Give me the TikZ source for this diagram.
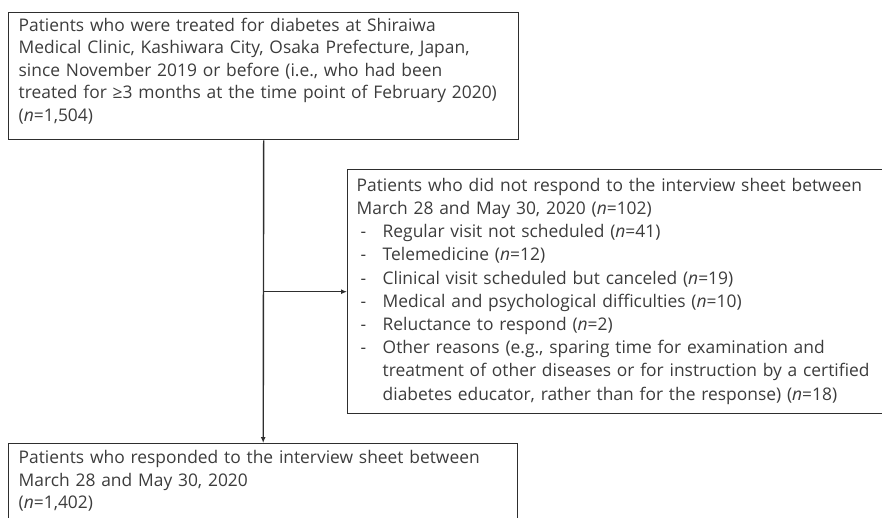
\documentclass[tikz,border=0pt]{standalone}
\usepackage{fontspec}
\setmainfont{Open Sans}
\usetikzlibrary{arrows.meta}

\definecolor{boxline}{HTML}{2E2E2E}
\definecolor{boxtext}{HTML}{3C3C3C}

\begin{document}
\begin{tikzpicture}[x=1pt,y=-1pt,
    flowbox/.style={draw=boxline, line width=1.4pt, anchor=north west,
      align=left, inner xsep=10pt, inner ysep=5pt, text=boxtext,
      font=\fontsize{17.4}{22.6}\selectfont},
    flowarrow/.style={draw=boxline, line width=1.4pt,
      -{Latex[length=6pt,width=5pt]}}]
  % --- item indent for the list of reasons ---
  \def\dsh{\hspace*{4pt}\makebox[22pt][l]{-}}
  \def\cont{\hspace*{26pt}}

  \useasboundingbox (0,0) rectangle (882,517);

  % --- enrolled patients ---
  \node[flowbox, text width=490pt] (enrolled) at (8,12)
    {\makebox[456pt][s]{Patients who were treated for diabetes at Shiraiwa}\\
     \mbox{Medical Clinic, Kashiwara City, Osaka Prefecture, Japan,}\\
     \makebox[463pt][s]{since November 2019 or before (i.e., who had been}\\
     \mbox{treated for ≥3 months at the time point of February 2020)}\\
     (\textit{n}=1,504)\rule[-13.3pt]{0pt}{0pt}};

  % --- non-responders (right edge runs off the page) ---
  \node[flowbox, text width=540pt, inner xsep=9pt,
        font=\fontsize{17.4}{23.2}\selectfont] (excluded) at (347,169)
    {\rule{0pt}{16.5pt}Patients who did not respond to the interview sheet between\\
     March 28 and May 30, 2020 (\textit{n}=102)\\
     \dsh Regular visit not scheduled (\textit{n}=41)\\
     \dsh Telemedicine (\textit{n}=12)\\
     \dsh Clinical visit scheduled but canceled (\textit{n}=19)\\
     \dsh Medical and psychological difficulties (\textit{n}=10)\\
     \dsh Reluctance to respond (\textit{n}=2)\\
     \dsh Other reasons (e.g., sparing time for examination and\\
     \cont treatment of other diseases or for instruction by a certified\\
     \cont diabetes educator, rather than for the response) (\textit{n}=18)\rule[-8.7pt]{0pt}{0pt}};

  % --- responders (bottom edge runs off the page) ---
  \node[flowbox, text width=489pt] (responded) at (8,443)
    {\rule{0pt}{15pt}\mbox{Patients who responded to the interview sheet between}\\
     March 28 and May 30, 2020\\
     (\textit{n}=1,402)\rule[-14pt]{0pt}{0pt}};

  % --- connectors ---
  \coordinate (branch) at (enrolled.south |- excluded.west);
  \draw[flowarrow] (enrolled.south) -- (responded.north);
  \draw[flowarrow] (branch) -- (excluded.west);
\end{tikzpicture}
\end{document}
